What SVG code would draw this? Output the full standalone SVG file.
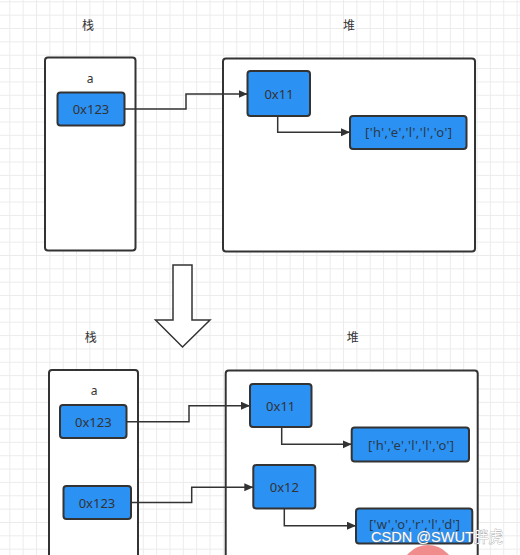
<svg xmlns="http://www.w3.org/2000/svg" width="520" height="555" viewBox="0 0 520 555">
<defs>
<pattern id="grid" patternUnits="userSpaceOnUse" x="9.3" y="1.35" width="13.35" height="13.35">
<path d="M0 0.5H13.35M0.5 0V13.35" stroke="#ebebeb" stroke-width="1" fill="none"/>
</pattern>
<marker id="arr" markerUnits="userSpaceOnUse" markerWidth="10" markerHeight="10" refX="9" refY="4" orient="auto">
<path d="M0 0L9 4L0 8Z" fill="#333"/>
</marker>
<style>
.box{fill:#fff;stroke:#333;stroke-width:2}
.node{fill:#2b91f3;stroke:#333;stroke-width:2}
.lbl{font-family:"Noto Sans","Noto Sans CJK SC",sans-serif;font-size:13px;fill:#333;text-anchor:middle;dominant-baseline:central}
.arrtxt{font-family:"Noto Sans",sans-serif;font-size:13px;fill:#2a3a4a;dominant-baseline:central}
.cap{font-family:"Noto Sans CJK SC",sans-serif;font-size:12px;fill:#333;text-anchor:middle;dominant-baseline:central}
.conn{fill:none;stroke:#333;stroke-width:1.5;marker-end:url(#arr)}
</style>
</defs>
<rect width="520" height="555" fill="#fff"/>
<rect width="520" height="555" fill="url(#grid)"/>

<text class="cap" x="88" y="24">栈</text>
<text class="cap" x="349" y="24">堆</text>
<g id="stack1"><rect class="box" x="45" y="57.5" width="90.5" height="193" rx="3"/><text class="lbl" x="90" y="78" style="font-size:12px">a</text></g>
<g id="heap1"><rect class="box" x="223" y="58.5" width="252" height="193" rx="3"/></g>
<g id="n1_a"><rect class="node" x="57.5" y="92.5" width="67" height="33" rx="3"/><text class="lbl" x="91" y="109">0x123</text></g>
<g id="n1_11"><rect class="node" x="247.5" y="71" width="62.5" height="45" rx="3"/><text class="lbl" x="279" y="93.5">0x11</text></g>
<g id="n1_hello"><rect class="node" x="350" y="116" width="116.5" height="33" rx="3"/><text class="arrtxt" x="365" y="132" textLength="87" lengthAdjust="spacing">['h','e','l','l','o']</text></g>

<g id="bigarrow"><polygon points="173,265 192,265 192,320 210,320 182.5,347 155.5,320 173,320" fill="#fff" stroke="#333" stroke-width="1.5"/></g>

<text class="cap" x="90.7" y="336.5">栈</text>
<text class="cap" x="352.7" y="336.5">堆</text>
<g id="stack2"><rect class="box" x="49" y="370" width="89" height="200" rx="3"/><text class="lbl" x="94" y="390" style="font-size:12px">a</text></g>
<g id="heap2"><rect class="box" x="225.7" y="370.5" width="252" height="200" rx="3"/></g>
<g id="n2_a"><rect class="node" x="60" y="405" width="66.5" height="33" rx="3"/><text class="lbl" x="93.3" y="421.5">0x123</text></g>
<g id="n2_b"><rect class="node" x="63.5" y="486" width="67.5" height="33" rx="3"/><text class="lbl" x="97" y="502.5">0x123</text></g>
<g id="n2_11"><rect class="node" x="250" y="384" width="61.5" height="43" rx="3"/><text class="lbl" x="280.7" y="405.5">0x11</text></g>
<g id="n2_12"><rect class="node" x="253.3" y="465" width="62" height="43.5" rx="3"/><text class="lbl" x="284.3" y="486.7">0x12</text></g>
<g id="n2_hello"><rect class="node" x="351.7" y="427.5" width="117.3" height="34" rx="3"/><text class="arrtxt" x="368" y="444.5" textLength="86" lengthAdjust="spacing">['h','e','l','l','o']</text></g>
<g id="n2_world"><rect class="node" x="356" y="508.5" width="116.3" height="35" rx="3"/><text class="arrtxt" x="369" y="524" textLength="91" lengthAdjust="spacing">['w','o','r','l','d']</text></g>

<g id="connectors">
<path class="conn" d="M124.5 109H186V94H247.5"/>
<path class="conn" d="M277.7 116V132.3H350"/>
<path class="conn" d="M126.5 421.7H189V405.7H250"/>
<path class="conn" d="M131 502.5H191.7V487.3H253.3"/>
<path class="conn" d="M281.7 427V444.3H351.7"/>
<path class="conn" d="M284.3 508.5V525.7H356"/>
</g>

<circle cx="428" cy="572" r="27" fill="#f08c8c"/>
<text x="371" y="542" textLength="132" lengthAdjust="spacingAndGlyphs" style="font-family:'Liberation Sans','Noto Sans CJK SC',sans-serif;font-size:15px;fill:#fff;stroke:#8a8a8a;stroke-width:0.6;paint-order:stroke">CSDN @SWUT胖虎</text>
</svg>
